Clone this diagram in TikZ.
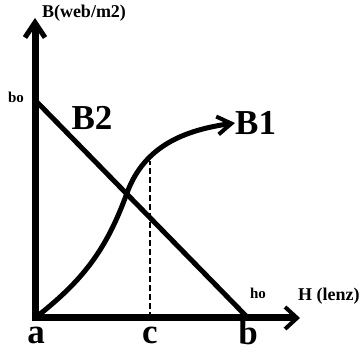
\documentclass[tikz,border=0pt]{standalone}
\usepackage{fontspec}
\setmainfont{Liberation Serif}
\usepackage{tikz}
\usetikzlibrary{arrows.meta, positioning, calc}
\tikzset{
  axisline/.style={
    line width=7pt, line cap=butt
  },
  curveline/.style={
    line width=5pt
  },
  biglabel/.style={
    font=\fontsize{35}{40}\selectfont\bfseries, inner sep=0pt
  },
  unitlabel/.style={
    font=\fontsize{18}{20}\selectfont\bfseries, inner sep=0pt
  },
  marklabel/.style={
    font=\fontsize{15}{17}\selectfont\bfseries, inner sep=0pt
  },
}

\begin{document}
\begin{tikzpicture}[x=1pt, y=1pt]
  \useasboundingbox (0,0) rectangle (362,353);

  % Points
  \coordinate (o) at (35,35);
  \coordinate (ytop) at (35,335);
  \coordinate (xend) at (300,35);
  \coordinate (bo) at (35,253);
  \coordinate (ho) at (248,35);
  \coordinate (bend) at (127,160);
  \coordinate (cpt) at (150,35);
  \coordinate (ctop) at (150,192);

  % Labels
  \node[unitlabel] (yname) at (84,340) {B(web/m2)};
  \node[unitlabel, anchor=west] (xname) at (298,57) {H (lenz)};
  \node[marklabel] (bolabel) at (16,256) {bo};
  \node[marklabel] (holabel) at (258,60) {ho};
  \node[biglabel] (B2) at (92,235) {B2};
  \node[biglabel, anchor=west] (B1) at (235,230) {B1};
  \node[biglabel, anchor=base] (alabel) at (36,9) {a};
  \node[biglabel, anchor=base] (clabel) at (150,9) {c};
  \node[biglabel, anchor=base] (blabel) at (248,8) {b};

  % Axes
  \draw[axisline, -{Straight Barb[length=15pt, width=20pt, line width=5pt]}]
    ($(o)+(0,-3.5)$) -- (ytop);
  \draw[axisline, -{Straight Barb[length=12pt, width=22pt, line width=4pt]}]
    ($(o)+(-3.5,0)$) -- (xend);

  % Curves
  \draw[curveline] (bo) -- (ho);
  \draw[curveline, -{Straight Barb[length=14pt, width=18pt, line width=4pt]}]
    (o) to[out=38, in=250] (bend) to[out=70, in=188] (B1.west);
  \draw[line width=2pt, dash pattern=on 6pt off 3pt] (cpt) -- (ctop);
\end{tikzpicture}
\end{document}
